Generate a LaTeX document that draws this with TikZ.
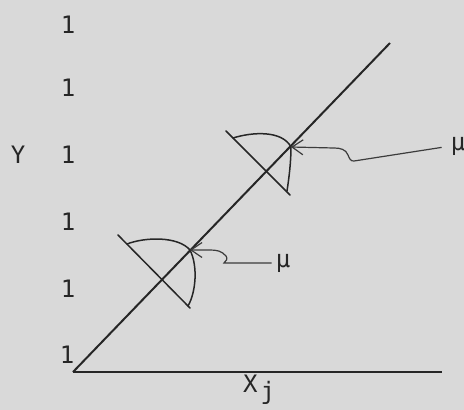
\documentclass[tikz,border=0pt]{standalone}
\usepackage{fontspec}
\setmainfont{DejaVu Sans Mono}
\usetikzlibrary{arrows.meta}
\definecolor{paper}{HTML}{D9D9D9}
\definecolor{ink}{HTML}{262626}

\begin{document}
\begin{tikzpicture}[x=1pt, y=-1pt,
  lbl/.style={font=\fontsize{24}{24}\selectfont, text=ink, inner sep=0pt},
  axis/.style={draw=ink, line width=2pt},
  curve/.style={draw=ink, line width=1.5pt, line join=round, line cap=round},
  arrow/.style={draw=ink!90, line width=1.2pt, -{Straight Barb[length=11pt, width=15pt]}}
]
  \fill[paper] (0,0) rectangle (464,410);
  \useasboundingbox (0,0) rectangle (464,410);

  % axis labels
  \node[lbl] (y) at (18,155) {Y};
  \node[lbl] (t1) at (68,25) {1};
  \node[lbl] (t2) at (68,88) {1};
  \node[lbl] (t3) at (68,155) {1};
  \node[lbl] (t4) at (68,222) {1};
  \node[lbl] (t5) at (68,289) {1};
  \node[lbl] (t6) at (67,355) {1};
  \node[lbl, anchor=west] (xj) at (243,390) {X\kern3pt\raisebox{-7pt}{j}};

  % axes and regression line
  \coordinate (o) at (73,372);
  \coordinate (xend) at (442,372);
  \coordinate (top) at (390,43);
  \draw[axis] (o) -- (xend);
  \draw[axis] (o) -- (top);

  % lower distribution
  \coordinate (la) at (118,235);
  \coordinate (lb) at (190,308);
  \coordinate (lp) at (190,250);
  \draw[curve] (la) -- (lb);
  \draw[curve] (127,244) .. controls (145,237) and (178,236) .. (lp)
    .. controls (198,266) and (196,292) .. (188,306);

  % upper distribution
  \coordinate (ua) at (226,131);
  \coordinate (ub) at (290,195);
  \coordinate (up) at (291,147);
  \draw[curve] (233,138) .. controls (252,132) and (282,130) .. (up)
    .. controls (291,162) and (289,178) .. (287,191);
  \draw[curve] (ua) -- (ub);

  % means
  \node[lbl] (mu1) at (458,146) {μ};
  \node[lbl] (mu2) at (283,263) {μ};
  \draw[arrow, shorten <=9pt] (mu1.west) -- (354,161) to[out=190,in=-70] (348,155)
    to[out=110,in=0] (334,148) -- (up);
  \draw[arrow, shorten <=4pt] (mu2.west) -- (224,263) to[out=30,in=-50] (226,256)
    to[out=130,in=0] (210,250) -- (lp);
\end{tikzpicture}
\end{document}
